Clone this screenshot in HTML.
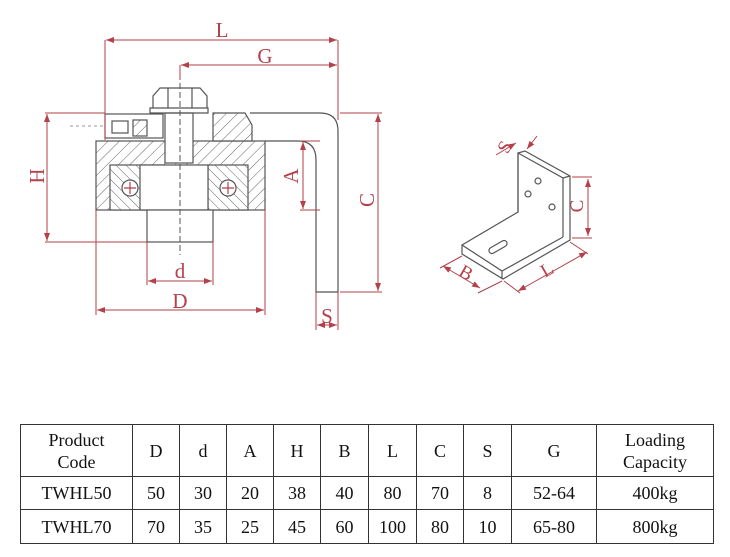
<!DOCTYPE html>
<html><head><style>
body{margin:0;background:#fff;width:730px;height:557px;overflow:hidden;font-family:"Liberation Serif",serif;}
svg{position:absolute;left:0;top:0}
table{position:absolute;left:20px;top:424px;border-collapse:collapse;font-family:"Liberation Serif",serif;font-size:18px;color:#111}
td{border:1.5px solid #333;text-align:center;padding:0;line-height:22px}
</style></head><body>
<svg width="730" height="420" viewBox="0 0 730 420">
<defs>
<pattern id="h" width="8" height="8" patternUnits="userSpaceOnUse" patternTransform="rotate(45)"><rect width="8" height="8" fill="#fff"/><line x1="0" y1="0" x2="0" y2="8" stroke="#666" stroke-width="1"/></pattern>
<pattern id="h2" width="7" height="7" patternUnits="userSpaceOnUse" patternTransform="rotate(-45)"><rect width="7" height="7" fill="#fff"/><line x1="0" y1="0" x2="0" y2="7" stroke="#666" stroke-width="1"/></pattern>
<marker id="a" markerWidth="8" markerHeight="6" refX="8" refY="3" orient="auto-start-reverse"><path d="M0,0L8,3L0,6z" fill="#b3404a"/></marker>
</defs>
<g fill="none" stroke="#555" stroke-width="1.2">
<path d="M250,113 H320 Q338,113 338,131 V292 H316 V160 Q316,141 298,141 H265"/>
<rect x="96" y="141" width="169" height="69" fill="url(#h)"/>
<rect x="110" y="165" width="55" height="45" fill="url(#h2)"/>
<rect x="208" y="165" width="40" height="45" fill="url(#h2)"/>
<rect x="140" y="165" width="68" height="45" fill="#fff"/>
<circle cx="130" cy="188" r="8" fill="#fff"/><circle cx="228" cy="188" r="8" fill="#fff"/>
<path d="M124,188h12M130,182v12M222,188h12M228,182v12" stroke="#b3404a"/>
<rect x="147" y="210" width="66" height="32" fill="#fff"/>
<path d="M213,113 H245 L252,125 V141 H213 Z" fill="url(#h)"/>
<rect x="105" y="114" width="58" height="24" fill="#fff"/>
<rect x="133" y="120" width="14" height="16" fill="url(#h)"/>
<rect x="112" y="121" width="16" height="12"/>
<rect x="165" y="113" width="28" height="50" fill="#fff"/>
<path d="M150,108 H208 V113 H150 Z"/>
<path d="M153,108 V96 L160,88 H200 L207,96 V108 M168,88 V108 M192,88 V108"/>
</g>
<line x1="180" y1="65" x2="180" y2="255" stroke="#555" stroke-dasharray="6,3"/>
<line x1="70" y1="126" x2="105" y2="126" stroke="#999" stroke-dasharray="3,3"/>
<g stroke="#b3404a" stroke-width="1" fill="none">
<path d="M105,40V140M338,40V120M180,65V80M45,113H105M45,242H147M300,141H320M300,210H320M340,113H382M340,292H382M96,210V315M265,210V315M147,242V285M213,242V285M316,292V330M338,292V330"/>
<line x1="106" y1="40" x2="337" y2="40" marker-start="url(#a)" marker-end="url(#a)"/>
<line x1="181" y1="65" x2="337" y2="65" marker-start="url(#a)" marker-end="url(#a)"/>
<line x1="47" y1="114" x2="47" y2="241" marker-start="url(#a)" marker-end="url(#a)"/>
<line x1="303" y1="142" x2="303" y2="209" marker-start="url(#a)" marker-end="url(#a)"/>
<line x1="378" y1="114" x2="378" y2="291" marker-start="url(#a)" marker-end="url(#a)"/>
<line x1="148" y1="281" x2="212" y2="281" marker-start="url(#a)" marker-end="url(#a)"/>
<line x1="97" y1="310" x2="264" y2="310" marker-start="url(#a)" marker-end="url(#a)"/>
<line x1="317" y1="325" x2="337" y2="325" marker-start="url(#a)" marker-end="url(#a)"/>
</g>
<g fill="#b3404a" font-size="21" text-anchor="middle" font-family="Liberation Serif,serif">
<text x="222" y="37">L</text><text x="265" y="63">G</text>
<text x="180" y="278">d</text><text x="180" y="308">D</text><text x="327" y="323">S</text>
<text transform="translate(44,176) rotate(-90)">H</text>
<text transform="translate(298,176) rotate(-90)">A</text>
<text transform="translate(374,200) rotate(-90)">C</text>
</g>
<g fill="none" stroke="#555" stroke-width="1.2">
<path d="M518,153 L525,151 L570,176 V240 L503,279 L462,254 V245 L518,212 Z"/>
<path d="M518,153 L563,178 V237 M563,178 L570,176 M462,245 L502,271 L563,237 M502,271 V279 M518,153 V212"/>
<circle cx="538" cy="181" r="3"/><circle cx="528" cy="194" r="3"/><circle cx="552" cy="207" r="3"/>
<rect x="488" y="244" width="20" height="6" rx="3" transform="rotate(-30 498 247)"/>
</g>
<g stroke="#b3404a" stroke-width="1" fill="none">
<line x1="496" y1="155" x2="516" y2="143" marker-end="url(#a)"/>
<line x1="537" y1="136" x2="527" y2="149" marker-end="url(#a)"/>
<path d="M572,177H592M572,238H592M462,256L440,268M502,281L478,293M504,281L520,293M570,242L588,254"/>
<line x1="588" y1="179" x2="588" y2="236" marker-start="url(#a)" marker-end="url(#a)"/>
<line x1="443" y1="266" x2="480" y2="288" marker-start="url(#a)" marker-end="url(#a)"/>
<line x1="518" y1="291" x2="587" y2="252" marker-start="url(#a)" marker-end="url(#a)"/>
</g>
<g fill="#b3404a" font-size="19" text-anchor="middle" font-family="Liberation Serif,serif">
<text transform="translate(510,150) rotate(-60)">S</text>
<text transform="translate(583,206) rotate(-90)">C</text>
<text transform="translate(463,278) rotate(30)">B</text>
<text transform="translate(550,275) rotate(-30)">L</text>
</g>
</svg>
<table>
<tr style="height:52px"><td style="width:111px">Product<br>Code</td><td style="width:46px">D</td><td style="width:46px">d</td><td style="width:46px">A</td><td style="width:46px">H</td><td style="width:47px">B</td><td style="width:47px">L</td><td style="width:46px">C</td><td style="width:47px">S</td><td style="width:84px">G</td><td style="width:116px">Loading<br>Capacity</td></tr>
<tr style="height:33px"><td>TWHL50</td><td>50</td><td>30</td><td>20</td><td>38</td><td>40</td><td>80</td><td>70</td><td>8</td><td>52-64</td><td>400kg</td></tr>
<tr style="height:34px"><td>TWHL70</td><td>70</td><td>35</td><td>25</td><td>45</td><td>60</td><td>100</td><td>80</td><td>10</td><td>65-80</td><td>800kg</td></tr>
</table>
</body></html>
